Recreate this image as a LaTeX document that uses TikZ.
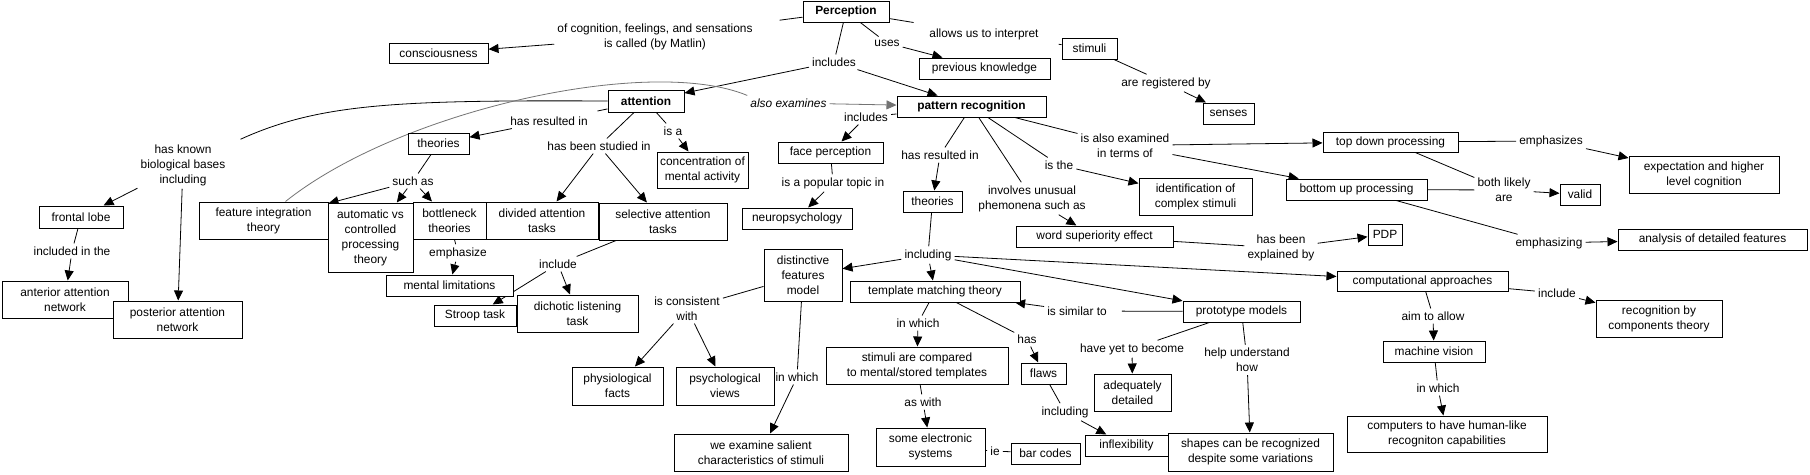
\documentclass[tikz,border=0pt]{standalone}
\usepackage{fontspec}
\setmainfont{Liberation Sans}
\usetikzlibrary{arrows.meta}
\pgfdeclarelayer{background}
\pgfsetlayers{background,main}
\begin{document}
\begin{tikzpicture}[x=1pt,y=-1pt,
  every node/.style={font=\fontsize{11.9}{15}\selectfont},
  cbox/.style={draw=black, line width=1pt, fill=white, inner sep=0pt, align=center},
  lbl/.style={inner sep=3pt, align=center},
  ln/.style={draw=black, line width=0.8pt},
  arr/.style={ln, -{Triangle[length=10pt,width=9pt]}},
  grayln/.style={draw=black!55, line width=0.8pt},
  grayarr/.style={grayln, -{Triangle[length=10pt,width=9pt]}}
]
\useasboundingbox (0,0) rectangle (1810,474);
% concept boxes
\node[cbox,minimum width=86pt,minimum height=21pt] (perc) at (846,11.5) {\textbf{Perception}};
\node[cbox,minimum width=99pt,minimum height=20pt] (consc) at (438.5,53) {consciousness};
\node[cbox,minimum width=131pt,minimum height=21pt] (prevk) at (984.5,68.5) {previous knowledge};
\node[cbox,minimum width=55pt,minimum height=21pt] (stim) at (1089.5,48.5) {stimuli};
\node[cbox,minimum width=51pt,minimum height=21pt] (senses) at (1228.5,113.5) {senses};
\node[cbox,minimum width=76pt,minimum height=22pt] (attn) at (646,101) {\textbf{attention}};
\node[cbox,minimum width=149pt,minimum height=21pt] (patrec) at (971.5,106.5) {\textbf{pattern recognition}};
\node[cbox,minimum width=61pt,minimum height=21pt] (theorA) at (438.5,143.5) {theories};
\node[cbox,minimum width=91pt,minimum height=36pt] (conc) at (702.5,170) {concentration of\\mental activity};
\node[cbox,minimum width=105pt,minimum height=21pt] (facep) at (830.5,152.5) {face perception};
\node[cbox,minimum width=110pt,minimum height=21pt] (neuro) at (797,218.5) {neuropsychology};
\node[cbox,minimum width=59pt,minimum height=21pt] (theorB) at (932.5,201.5) {theories};
\node[cbox,minimum width=113pt,minimum height=37pt] (ident) at (1195.5,196.5) {identification of\\complex stimuli};
\node[cbox,minimum width=135pt,minimum height=20pt] (topdown) at (1390.5,142) {top down processing};
\node[cbox,minimum width=141pt,minimum height=21pt] (botup) at (1356.5,189.5) {bottom up processing};
\node[cbox,minimum width=150pt,minimum height=37pt] (expect) at (1704,174.5) {expectation and higher\\level cognition};
\node[cbox,minimum width=40pt,minimum height=21pt] (valid) at (1580,194.5) {valid};
\node[cbox,minimum width=189pt,minimum height=21pt] (analysis) at (1712.5,239.5) {analysis of detailed features};
\node[cbox,minimum width=34pt,minimum height=21pt] (pdp) at (1385,234.5) {PDP};
\node[cbox,minimum width=157pt,minimum height=21pt] (wse) at (1094.5,236.5) {word superiority effect};
\node[cbox,minimum width=84pt,minimum height=22pt] (frontal) at (81,217) {frontal lobe};
\node[cbox,minimum width=126pt,minimum height=37pt] (anterior) at (65,299.5) {anterior attention\\network};
\node[cbox,minimum width=129pt,minimum height=37pt] (posterior) at (177.5,319.5) {posterior attention\\network};
\node[cbox,minimum width=129pt,minimum height=37pt] (fit) at (263.5,220.5) {feature integration\\theory};
\node[cbox,minimum width=85pt,minimum height=69pt] (auto) at (370.5,237.5) {automatic vs\\controlled\\processing\\theory};
\node[cbox,minimum width=73pt,minimum height=37pt] (bottle) at (449.5,220.5) {bottleneck\\theories};
\node[cbox,minimum width=112pt,minimum height=37pt] (divided) at (542,220.5) {divided attention\\tasks};
\node[cbox,minimum width=128pt,minimum height=37pt] (select) at (663,221.5) {selective attention\\tasks};
\node[cbox,minimum width=127pt,minimum height=21pt] (mental) at (449.5,285.5) {mental limitations};
\node[cbox,minimum width=82pt,minimum height=21pt] (stroop) at (475,315.5) {Stroop task};
\node[cbox,minimum width=121pt,minimum height=37pt] (dichotic) at (577.5,313.5) {dichotic listening\\task};
\node[cbox,minimum width=78pt,minimum height=52pt] (dfm) at (803,275) {distinctive\\features\\model};
\node[cbox,minimum width=91pt,minimum height=38pt] (physio) at (617.5,386) {physiological\\facts};
\node[cbox,minimum width=98pt,minimum height=38pt] (psych) at (725,386) {psychological\\views};
\node[cbox,minimum width=174pt,minimum height=37pt] (examine) at (761,452.5) {we examine salient\\characteristics of stimuli};
\node[cbox,minimum width=170pt,minimum height=21pt] (tmt) at (935,291.5) {template matching theory};
\node[cbox,minimum width=182pt,minimum height=37pt] (compared) at (917,365.5) {stimuli are compared\\to mental/stored templates};
\node[cbox,minimum width=109pt,minimum height=38pt] (electronic) at (930.5,447) {some electronic\\systems};
\node[cbox,minimum width=69pt,minimum height=21pt] (barcodes) at (1045.5,453.5) {bar codes};
\node[cbox,minimum width=45pt,minimum height=21pt] (flaws) at (1043.5,373.5) {flaws};
\node[cbox,minimum width=83pt,minimum height=21pt] (inflex) at (1126.5,445.5) {inflexibility};
\node[cbox,minimum width=117pt,minimum height=21pt] (proto) at (1241.5,311.5) {prototype models};
\node[cbox,minimum width=77pt,minimum height=37pt] (adequate) at (1132.5,392.5) {adequately\\detailed};
\node[cbox,minimum width=165pt,minimum height=38pt] (shapes) at (1250.5,452) {shapes can be recognized\\despite some variations};
\node[cbox,minimum width=171pt,minimum height=20pt] (comp) at (1422.5,281) {computational approaches};
\node[cbox,minimum width=102pt,minimum height=21pt] (machine) at (1434,351.5) {machine vision};
\node[cbox,minimum width=200pt,minimum height=36pt] (computers) at (1447,434) {computers to have human-like\\recogniton capabilities};
\node[cbox,minimum width=126pt,minimum height=37pt] (rbc) at (1659,318.5) {recognition by\\components theory};
% linking phrases
\node[lbl] (L1) at (655,36.5) {of cognition, feelings, and sensations\\is called (by Matlin)};
\node[lbl] (L2) at (834,62) {includes};
\node[lbl] (L3) at (887,43) {uses};
\node[lbl] (L4) at (984,34) {allows us to interpret};
\node[lbl] (L5) at (1166,83) {are registered by};
\node[lbl] (L6) at (183,165) {has known\\biological bases\\including};
\node[lbl] (L7) at (549,121) {has resulted in};
\node[lbl] (L8) at (673,131) {is a};
\node[lbl] (L9) at (599,146) {has been studied in};
\node[lbl] (L10) at (413,181) {such as};
\node[lbl] (L11) at (788.5,103) {\itshape also examines};
\node[lbl] (L12) at (866,117) {includes};
\node[lbl] (L13) at (833,183) {is a popular topic in};
\node[lbl] (L14) at (940,155) {has resulted in};
\node[lbl] (L15) at (1032,198.5) {involves unusual\\phemonena such as};
\node[lbl] (L16) at (1059,165) {is the};
\node[lbl] (L17) at (1125,145.5) {is also examined\\in terms of};
\node[lbl] (L18) at (1551,141) {emphasizes};
\node[lbl] (L19) at (1504,190) {both likely\\are};
\node[lbl] (L20) at (1549,243) {emphasizing};
\node[lbl] (L21) at (1281,248) {has been\\explained by};
\node[lbl] (L22) at (72,251) {included in the};
\node[lbl] (L23) at (458,253) {emphasize};
\node[lbl] (L24) at (558,264) {include};
\node[lbl] (L25) at (928,255) {including};
\node[lbl] (L26) at (687,308.5) {is consistent\\with};
\node[lbl] (L27) at (797,377) {in which};
\node[lbl] (L28) at (918,323) {in which};
\node[lbl] (L29) at (923,402) {as with};
\node[lbl] (L30) at (995,451) {ie};
\node[lbl] (L31) at (1027,339) {has};
\node[lbl] (L32) at (1065,412) {including};
\node[lbl] (L33) at (1077,311) {is similar to};
\node[lbl] (L34) at (1132,349) {have yet to become};
\node[lbl] (L35) at (1247,360) {help understand\\how};
\node[lbl] (L36) at (1433,316) {aim to allow};
\node[lbl] (L37) at (1438,388) {in which};
\node[lbl] (L38) at (1557,293) {include};
% connectors
\begin{pgfonlayer}{background}
\fill[white] (0,0) rectangle (1810,474);
\draw[ln, shorten >=24pt] (perc) -- (L1);
\draw[arr] (L1) -- (consc);
\draw[ln] (perc) -- (L2);
\draw[arr] (L2) -- (attn);
\draw[arr] (L2) -- (patrec);
\draw[ln] (perc) -- (L3);
\draw[arr] (L3) -- (prevk);
\draw[ln, shorten >=17pt] (perc) -- (L4);
\draw[ln, shorten <=17pt] (L4) -- (stim);
\draw[ln] (stim) -- (L5);
\draw[arr] (L5) -- (senses);
\draw[ln] (attn.west) .. controls (400,100) and (320,103) .. ([xshift=12pt,yshift=2pt]L6.north east);
\draw[ln, shorten >=12pt] (attn) -- (L7);
\draw[arr] (L7) -- (theorA);
\draw[grayln] ([xshift=22pt]fit.north) .. controls (400,110) and (650,55) .. (L11.north west);
\draw[grayarr] (L11) -- (patrec);
\draw[ln] (attn) -- (L8);
\draw[arr] (L8) -- (conc);
\draw[ln] (attn) -- (L9);
\draw[arr] (L9) -- (divided);
\draw[arr] (L9) -- (select);
\draw[ln] (theorA) -- (L10);
\draw[arr] (L10) -- (fit);
\draw[arr] (L10) -- (auto);
\draw[arr] (L10) -- (bottle);
\draw[ln] (bottle) -- (L23);
\draw[arr] (L23) -- (mental);
\draw[ln] (select) -- (L24);
\draw[arr] (L24) -- (stroop);
\draw[arr] (L24) -- (dichotic);
\draw[arr] (L6) -- (frontal);
\draw[arr] (L6) -- (posterior);
\draw[ln] (frontal) -- (L22);
\draw[arr] (L22) -- (anterior);
\draw[ln] (patrec) -- (L12);
\draw[arr] (L12) -- (facep);
\draw[ln] (facep) -- (L13);
\draw[arr] (L13) -- (neuro);
\draw[ln] (patrec) -- (L14);
\draw[arr] (L14) -- (theorB);
\draw[ln] (patrec) -- (L15);
\draw[arr] (L15) -- (wse);
\draw[ln] (patrec) -- (L16);
\draw[arr] (L16) -- (ident);
\draw[ln] (patrec) -- (L17);
\draw[arr] (L17) -- (topdown);
\draw[arr] (L17) -- (botup);
\draw[ln] (topdown) -- (L18);
\draw[arr] (L18) -- (expect);
\draw[ln] (topdown) -- (L19);
\draw[ln] (botup) -- (L19);
\draw[arr] (L19) -- (valid);
\draw[ln] (botup) -- (L20);
\draw[arr] (L20) -- (analysis);
\draw[ln] (wse) -- (L21);
\draw[arr] (L21) -- (pdp);
\draw[ln] (theorB) -- (L25);
\draw[arr] (L25) -- (dfm);
\draw[arr] (L25) -- (tmt);
\draw[arr] (L25) -- (proto);
\draw[arr] (L25) -- (comp);
\draw[ln] (dfm) -- (L26);
\draw[arr] (L26) -- (physio);
\draw[arr] (L26) -- (psych);
\draw[ln] (dfm) -- (L27);
\draw[arr] (L27) -- (examine);
\draw[ln, shorten >=12pt] (proto) -- (L33);
\draw[arr] (L33) -- (tmt);
\draw[ln] (tmt) -- (L28);
\draw[arr] (L28) -- (compared);
\draw[ln] (compared) -- (L29);
\draw[arr] (L29) -- (electronic);
\draw[ln] (electronic) -- (L30);
\draw[ln] (L30) -- (barcodes);
\draw[ln] (tmt) -- (L31);
\draw[arr] (L31) -- (flaws);
\draw[ln] (flaws) -- (L32);
\draw[arr] (L32) -- (inflex);
\draw[ln] (proto) -- (L34);
\draw[arr] (L34) -- (adequate);
\draw[ln] (proto) -- (L35);
\draw[arr] (L35) -- (shapes);
\draw[ln] (comp) -- (L36);
\draw[arr] (L36) -- (machine);
\draw[ln] (machine) -- (L37);
\draw[arr] (L37) -- (computers);
\draw[ln] (comp) -- (L38);
\draw[arr] (L38) -- (rbc);
\end{pgfonlayer}
\end{tikzpicture}
\end{document}
